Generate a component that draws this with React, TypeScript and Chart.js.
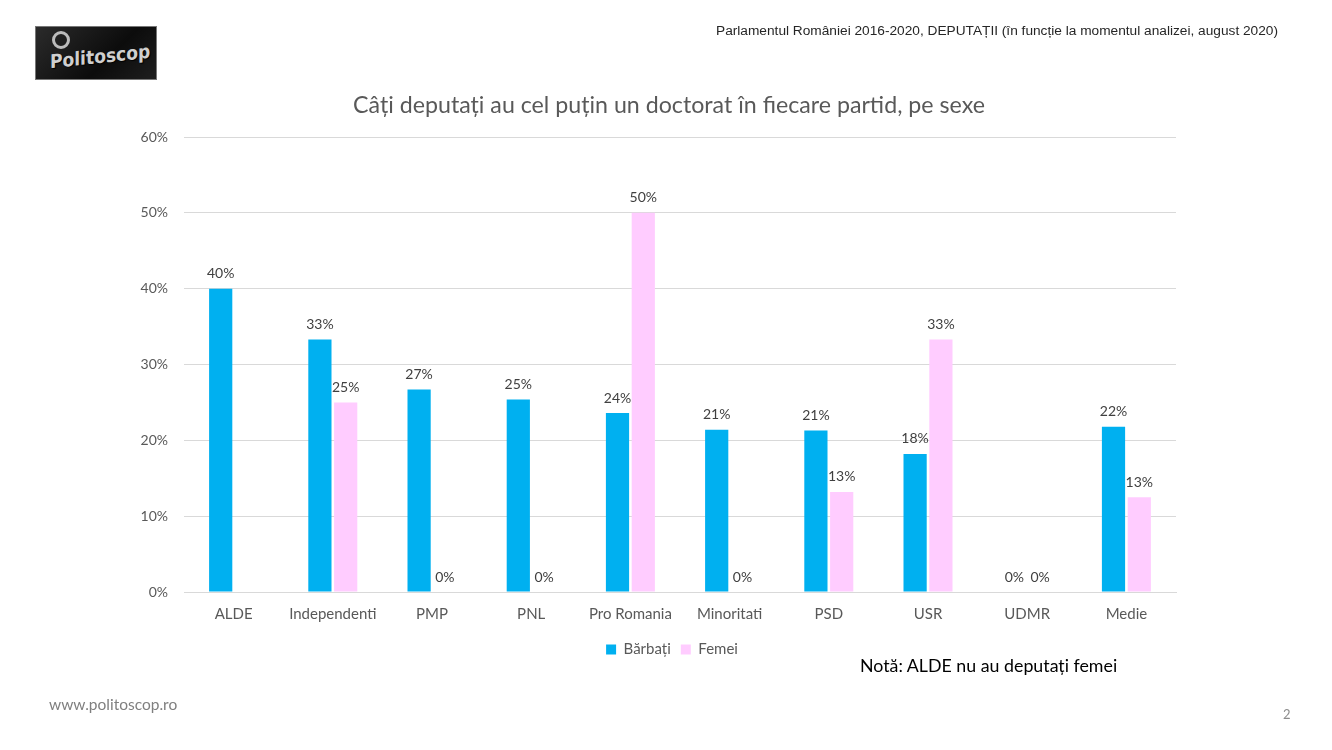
import React, { useEffect, useRef } from "react";
import { Chart, registerables } from "chart.js";

Chart.register(...registerables);

const categories = ["ALDE", "Independenti", "PMP", "PNL", "Pro Romania", "Minoritati", "PSD", "USR", "UDMR", "Medie"];
const barbati = [40.0, 33.3, 26.7, 25.4, 23.6, 21.4, 21.3, 18.2, 0, 21.8];
const femei = [null, 25.0, 0, 0, 50.0, 0, 13.2, 33.3, 0, 12.5];
const seriesNames = ["Bărbați", "Femei"];
const yMax = 60;
const yStep = 10;

const titleText = "Câți deputați au cel puțin un doctorat în fiecare partid, pe sexe";
const headerText = "Parlamentul României 2016-2020, DEPUTAȚII (în funcție la momentul analizei, august 2020)";
const noteText = "Notă: ALDE nu au deputați femei";

const FONT = "Lato, 'Noto Sans', sans-serif";

const valueLabels = {
  id: "valueLabels",
  afterDatasetsDraw(chart: any) {
    const ctx = chart.ctx;
    ctx.save();
    ctx.font = "14px " + FONT;
    ctx.fillStyle = "#404040";
    ctx.textAlign = "center";
    ctx.textBaseline = "middle";
    chart.data.datasets.forEach((ds: any, di: number) => {
      const meta = chart.getDatasetMeta(di);
      meta.data.forEach((el: any, i: number) => {
        const v = ds.data[i];
        if (v === null || v === undefined) return;
        ctx.fillText(Math.round(v) + "%", el.x, el.y - 15);
      });
    });
    ctx.restore();
  },
};

// centre the legend under the slide's chart frame rather than the padded canvas box
const legendShift = {
  id: "legendShift",
  afterLayout(chart: any) {
    const lg = chart.legend;
    if (lg) {
      lg.left += 40;
    }
  },
};

export default function App() {
  const ref = useRef<HTMLCanvasElement>(null);
  useEffect(() => {
    document.body.style.margin = "0";
    const chart = new Chart(ref.current!, {
      type: "bar",
      data: {
        labels: categories,
        datasets: [
          { label: seriesNames[0], data: barbati, backgroundColor: "#00B0F0", categoryPercentage: 0.52, barPercentage: 0.9 },
          { label: seriesNames[1], data: femei as any, backgroundColor: "#FFCCFF", categoryPercentage: 0.52, barPercentage: 0.9 },
        ],
      },
      options: {
        animation: false,
        responsive: false,
        maintainAspectRatio: false,
        layout: { padding: { left: 128, right: 156, top: 137, bottom: 83 } },
        plugins: {
          legend: {
            position: "bottom",
            labels: {
              boxWidth: 10,
              boxHeight: 10,
              padding: 10,
              color: "#595959",
              font: { family: FONT, size: 15 },
            },
          },
          title: { display: false },
          tooltip: { enabled: false },
        },
        scales: {
          x: {
            grid: { display: false, drawTicks: false },
            border: { display: true, color: "#D9D9D9", width: 1 },
            ticks: { color: "#595959", font: { family: FONT, size: 15 }, padding: 13, maxRotation: 0 },
            afterFit: (s: any) => { s.height = s.height - 4; },
          },
          y: {
            min: 0,
            max: yMax,
            afterFit: (s: any) => { s.width = 56; },
            grid: { color: "#D9D9D9", drawTicks: false },
            border: { display: false },
            ticks: {
              stepSize: yStep,
              color: "#595959",
              font: { family: FONT, size: 14 },
              padding: 16,
              callback: (v: any) => v + "%",
            },
          },
        },
      },
      plugins: [valueLabels, legendShift],
    });
    return () => chart.destroy();
  }, []);

  return (
    <div style={{ position: "relative", width: 1332, height: 750, background: "#fff", overflow: "hidden" }}>
      <canvas ref={ref} width={1332} height={750} style={{ position: "absolute", left: 0, top: 0, width: 1332, height: 750 }} />
      <div
        style={{
          position: "absolute", left: 35, top: 26, width: 122, height: 54,
          background: "linear-gradient(135deg, #2b2b2b 0%, #0c0c0c 60%, #1e1e1e 100%)",
          border: "1px solid #777", boxSizing: "border-box", overflow: "hidden",
        }}
      >
        <div style={{ position: "absolute", left: 16, top: 4, width: 18, height: 18, borderRadius: "50%", border: "3px solid #bbb", boxSizing: "border-box" }} />
        <div style={{ position: "absolute", left: 14, top: 18, fontFamily: "'DejaVu Sans Condensed', 'Liberation Sans Narrow', sans-serif", fontSize: 19, fontWeight: "bold", color: "#cfcfcf", letterSpacing: 0, transform: "skewY(-6deg)", textShadow: "1px 1px 1px #000" }}>
          Politoscop
        </div>
      </div>
      <div style={{ position: "absolute", right: 54, top: 23, fontFamily: "'Liberation Sans', Arial, sans-serif", fontSize: 13.7, color: "#262626", whiteSpace: "nowrap" }}>
        {headerText}
      </div>
      <div style={{ position: "absolute", left: 0, width: 1338, top: 90, textAlign: "center", fontFamily: FONT, fontSize: 23.2, color: "#595959", whiteSpace: "nowrap" }}>
        {titleText}
      </div>
      <div style={{ position: "absolute", left: 860, top: 654, fontFamily: FONT, fontSize: 17.8, color: "#000", whiteSpace: "nowrap" }}>
        {noteText}
      </div>
      <div style={{ position: "absolute", left: 49, top: 695, fontFamily: FONT, fontSize: 15.5, color: "#7f7f7f", whiteSpace: "nowrap" }}>
        www.politoscop.ro
      </div>
      <div style={{ position: "absolute", left: 1283, top: 706, fontFamily: FONT, fontSize: 13, color: "#8c8c8c" }}>
        2
      </div>
    </div>
  );
}
